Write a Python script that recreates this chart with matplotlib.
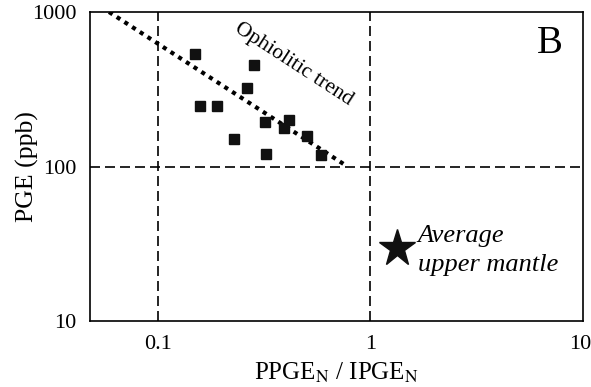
import numpy as np
import matplotlib.pyplot as plt
from matplotlib.ticker import FixedLocator, NullLocator

plt.rcParams['font.family'] = ['Liberation Serif', 'DejaVu Serif']
plt.rcParams['mathtext.fontset'] = 'stix'

# Muestras (cuadrados negros)
ratio = [0.149, 0.284, 0.263, 0.158, 0.189, 0.321, 0.412, 0.391, 0.505, 0.229, 0.323, 0.588]
pge = [538, 455, 320, 248, 245, 195, 201, 178, 157, 150, 121, 118]

# Tendencia ofiolítica
trend_x = [0.059, 0.78]
trend_y = [1000, 100]

# Manto superior promedio
mantle_x = [1.33]
mantle_y = [29.5]

fig = plt.figure(figsize=(5.91, 3.87), dpi=100)
ax = fig.add_axes([0.1523, 0.1705, 0.8342, 0.7985])
ax.set_xscale('log')
ax.set_yscale('log')
ax.set_xlim(0.048, 10)
ax.set_ylim(10, 1000)

# líneas de referencia
ax.axvline(0.1, color='black', ls=(0, (6, 3)), lw=1.2)
ax.axvline(1, color='black', ls=(0, (6, 3)), lw=1.2)
ax.axhline(100, color='black', ls=(0, (6, 3)), lw=1.2)

ax.plot(trend_x, trend_y, color='black', lw=3, ls=(0, (1, 1.2)), dash_capstyle='butt')
ax.plot(ratio, pge, 's', color='#111111', ms=6.5)
ax.plot(mantle_x, mantle_y, '*', color='#111111', ms=28)

ax.text(1.67, 28.5, 'Average\nupper mantle', style='italic', fontsize=19,
        va='center', ha='left', linespacing=1.4)
ax.text(0.436, 457, 'Ophiolitic trend', rotation=-33, fontsize=15.5,
        ha='center', va='center', rotation_mode='anchor')
ax.text(6.95, 630, 'B', fontsize=28, ha='center', va='center')

# la etiqueta "10" va un poco a la izquierda para que no se corte
ax.xaxis.set_major_locator(FixedLocator([0.1, 1, 9.7]))
ax.xaxis.set_minor_locator(NullLocator())
ax.yaxis.set_major_locator(FixedLocator([10, 100, 1000]))
ax.yaxis.set_minor_locator(NullLocator())
ax.set_xticklabels(['0.1', '1', '10'])
ax.set_yticklabels(['10', '100', '1000'])
ax.tick_params(length=0, labelsize=16)
ax.tick_params(axis='x', pad=10)
ax.tick_params(axis='y', pad=10)

ax.set_xlabel(r'PPGE$_\mathrm{N}$ / IPGE$_\mathrm{N}$', fontsize=18, labelpad=5)
ax.set_ylabel('PGE (ppb)', fontsize=18.5, labelpad=-5)

for s in ax.spines.values():
    s.set_linewidth(1.2)

fig.savefig('out.png', dpi=100)
